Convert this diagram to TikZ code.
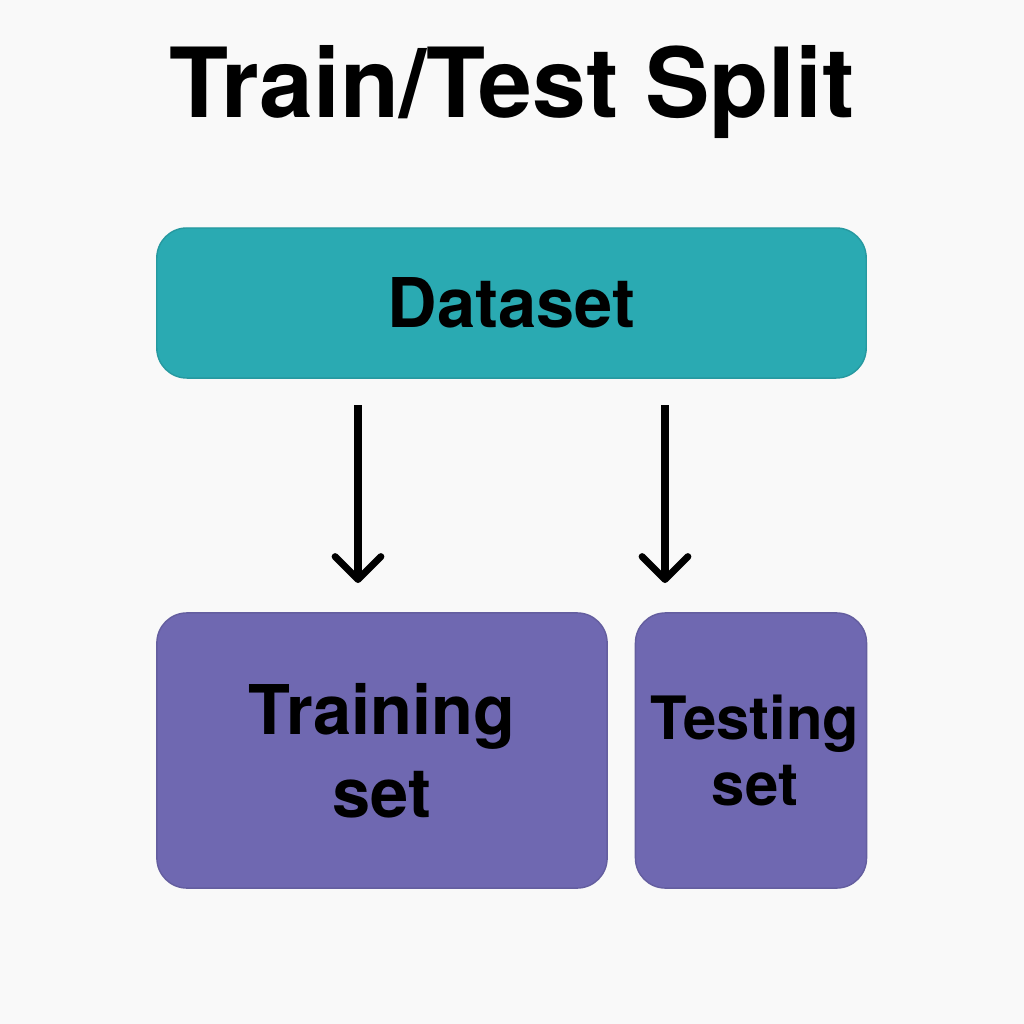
\documentclass[tikz,border=0pt]{standalone}
\usepackage{fontspec}
\setmainfont{TeX Gyre Heros}
\usetikzlibrary{arrows.meta}
\definecolor{bgcol}{HTML}{F9F9F9}
\definecolor{dataTeal}{HTML}{2AAAB2}
\definecolor{setPurple}{HTML}{6F68B1}
\tikzset{
  box/.style={rounded corners=0.3cm, inner sep=0pt, align=center, font=\bfseries},
  splitarrow/.style={line width=2pt, -{Straight Barb[length=6.5pt,width=13pt,line cap=round,line join=round]}}
}
\begin{document}
\begin{tikzpicture}[x=0.01cm,y=-0.01cm]
  \fill[bgcol] (0,0) rectangle (1024,1024);
  \node[anchor=base, font=\fontsize{27.5}{30}\selectfont\bfseries] (title) at (512,117) {Train/Test Split};

  \node[box, fill=dataTeal, draw=dataTeal!90!black, line width=0.4pt,
        minimum width=7.09cm, minimum height=1.5cm, font=\fontsize{19.5}{22}\selectfont\bfseries]
        (dataset) at (511.5,303) {Dataset};
  \node[box, fill=setPurple, draw=setPurple!90!black, line width=0.4pt,
        minimum width=4.5cm, minimum height=2.75cm, font=\fontsize{19.5}{23.6}\selectfont\bfseries]
        (train) at (382,750.5) {Training\\set};
  \node[box, fill=setPurple, draw=setPurple!90!black, line width=0.4pt,
        minimum width=2.31cm, minimum height=2.75cm, font=\fontsize{17}{18.5}\selectfont\bfseries]
        (test) at (751,750.5) {\hspace{0.08cm}Testing\\\hspace{0.08cm}set};

  % arrows from the dataset to the two sets
  \coordinate (s1) at (358,405);
  \coordinate (e1) at (358,583);
  \coordinate (s2) at (665,405);
  \coordinate (e2) at (665,583);
  \draw[splitarrow] (s1) -- (e1);
  \draw[splitarrow] (s2) -- (e2);
\end{tikzpicture}
\end{document}
